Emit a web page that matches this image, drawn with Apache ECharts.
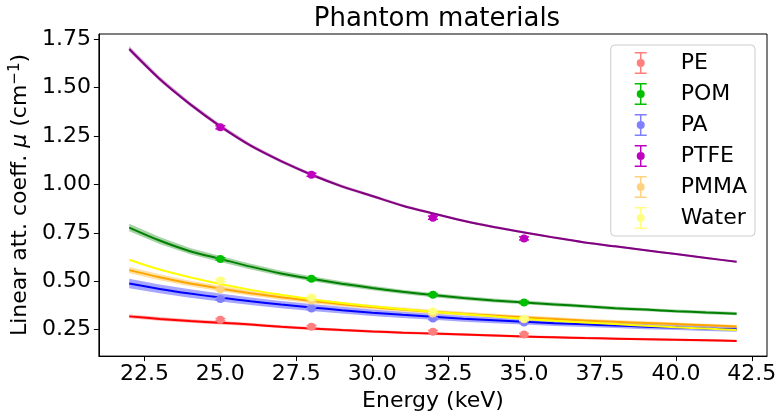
<!DOCTYPE html>
<html><head><meta charset="utf-8">
<script src="https://cdn.jsdelivr.net/npm/echarts@6/dist/echarts.min.js"></script>
<style>html,body{margin:0;padding:0;background:#fff}#c{width:782px;height:417px}</style>
</head><body><div id="c"></div>
<script>
// ---- data ----
const energyGrid = [22,23,24,25,26,27,28,29,30,31,32,33,34,35,36,37,38,39,40,41,42];
const measEnergy = [25,28,32,35];
const xTicks = [22.5,25,27.5,30,32.5,35,37.5,40,42.5];
const yTicks = [0.25,0.5,0.75,1.0,1.25,1.5,1.75];
const materials = ['PE','POM','PA','PTFE','PMMA','Water'];

const peCurve    = [0.318,0.305,0.294,0.285,0.276,0.264,0.255,0.247,0.240,0.234,0.229,0.224,0.219,0.214,0.210,0.206,0.203,0.200,0.197,0.194,0.191];
const pomCurve   = [0.777,0.710,0.655,0.615,0.575,0.540,0.512,0.487,0.465,0.445,0.428,0.413,0.400,0.390,0.380,0.370,0.360,0.353,0.345,0.338,0.332];
const paCurve    = [0.488,0.460,0.436,0.415,0.396,0.379,0.364,0.350,0.337,0.326,0.316,0.306,0.298,0.290,0.283,0.277,0.271,0.265,0.260,0.255,0.251];
const ptfeCurve  = [1.700,1.545,1.415,1.300,1.200,1.120,1.050,0.990,0.940,0.890,0.850,0.812,0.780,0.752,0.725,0.700,0.680,0.660,0.640,0.620,0.600];
const pmmaCurve  = [0.557,0.520,0.488,0.462,0.438,0.417,0.398,0.381,0.366,0.353,0.342,0.332,0.322,0.313,0.305,0.297,0.290,0.284,0.278,0.272,0.266];
const waterCurve = [0.611,0.560,0.520,0.485,0.455,0.430,0.407,0.387,0.370,0.355,0.342,0.330,0.318,0.305,0.295,0.286,0.278,0.270,0.262,0.255,0.248];

const peMeas    = [0.301,0.265,0.239,0.224];
const pomMeas   = [0.615,0.512,0.430,0.390];
const paMeas    = [0.408,0.359,0.307,0.287];
const ptfeMeas  = [1.295,1.050,0.828,0.721];
const pmmaMeas  = [0.458,0.400,0.333,0.303];
const waterMeas = [0.504,0.415,0.343,0.306];

const peErr    = [0.006,0.006,0.006,0.006];
const pomErr   = [0.006,0.006,0.006,0.006];
const paErr    = [0.006,0.006,0.006,0.006];
const ptfeErr  = [0.008,0.008,0.008,0.008];
const pmmaErr  = [0.006,0.006,0.006,0.006];
const waterErr = [0.006,0.006,0.006,0.006];

// relative half-width of the shaded uncertainty band
const peBand = 0.03, pomBand = 0.025, paBand = 0.05, ptfeBand = 0.008, pmmaBand = 0.03, waterBand = 0.0;

// ---- styles ----
const FONT = 'DejaVu Sans';
const lineColors  = {PE:'#ff0000', POM:'#008000', PA:'#0000ff', PTFE:'#800080', PMMA:'#ffa500', Water:'#ffff00'};
const bandColors  = {PE:'rgba(255,0,0,0.3)', POM:'rgba(0,128,0,0.35)', PA:'rgba(0,0,255,0.35)', PTFE:'rgba(128,0,128,0.35)', PMMA:'rgba(255,165,0,0.35)', Water:'rgba(255,255,0,0.3)'};
const pointColors = {PE:'#ff7f7f', POM:'#00bf00', PA:'#7f7fff', PTFE:'#bf00bf', PMMA:'#ffd27f', Water:'#ffff7f'};

const curves = {PE:peCurve, POM:pomCurve, PA:paCurve, PTFE:ptfeCurve, PMMA:pmmaCurve, Water:waterCurve};
const meas   = {PE:peMeas, POM:pomMeas, PA:paMeas, PTFE:ptfeMeas, PMMA:pmmaMeas, Water:waterMeas};
const errs   = {PE:peErr, POM:pomErr, PA:paErr, PTFE:ptfeErr, PMMA:pmmaErr, Water:waterErr};
const bands  = {PE:peBand, POM:pomBand, PA:paBand, PTFE:ptfeBand, PMMA:pmmaBand, Water:waterBand};

const series = [];
materials.forEach((m, k) => {
  const curve = curves[m], frac = bands[m];
  if (frac > 0) {
    series.push({
      type:'custom', name:m, silent:true, z:1 + k*0.01,
      data:[[energyGrid[0], curve[0]]],
      renderItem:(params, api) => {
        const pts = [];
        for (let i = 0; i < energyGrid.length; i++) pts.push(api.coord([energyGrid[i], curve[i]*(1+frac)]));
        for (let i = energyGrid.length-1; i >= 0; i--) pts.push(api.coord([energyGrid[i], curve[i]*(1-frac)]));
        return {type:'polygon', shape:{points:pts}, style:{fill:bandColors[m]}};
      }
    });
  }
  series.push({
    type:'line', name:m, z:2 + k*0.01, silent:true,
    data: energyGrid.map((e,i) => [e, curve[i]]),
    showSymbol:false, smooth:0.3,
    lineStyle:{color:lineColors[m], width:2},
    itemStyle:{color:lineColors[m]}
  });
});
materials.forEach((m, k) => {
  series.push({
    type:'custom', name:m, silent:true, z:5,
    data: measEnergy.map((e,i) => [e, meas[m][i], errs[m][i]]),
    renderItem:(params, api) => {
      const x = api.value(0), y = api.value(1), e = api.value(2);
      const t = api.coord([x, y+e]), b = api.coord([x, y-e]);
      const c = 5, col = pointColors[m];
      return {type:'group', children:[
        {type:'line', shape:{x1:t[0], y1:t[1], x2:b[0], y2:b[1]}, style:{stroke:col, lineWidth:1.5}},
        {type:'line', shape:{x1:t[0]-c, y1:t[1], x2:t[0]+c, y2:t[1]}, style:{stroke:col, lineWidth:1.5}},
        {type:'line', shape:{x1:b[0]-c, y1:b[1], x2:b[0]+c, y2:b[1]}, style:{stroke:col, lineWidth:1.5}}
      ]};
    }
  });
  series.push({
    type:'scatter', name:m, z:6, silent:true,
    data: measEnergy.map((e,i) => [e, meas[m][i]]),
    symbol:'circle', symbolSize:8,
    itemStyle:{color:pointColors[m], opacity:1}
  });
});

const legendIcon = 'path://M0,0H12V1.5H0Z M5.25,0H6.75V22H5.25Z M0,20.5H12V22H0Z M6,7A4,4 0 1 1 6,15A4,4 0 1 1 6,7Z';

const option = {
  animation:false,
  backgroundColor:'#fff',
  textStyle:{fontFamily:FONT},
  title:{text:'Phantom materials', left:432, textAlign:'center', top:1,
    textStyle:{fontFamily:FONT, fontSize:26, fontWeight:'normal', color:'#000'}},
  grid:{left:97, right:15, top:34, bottom:58, show:true, borderColor:'#000', borderWidth:1, backgroundColor:'transparent'},
  legend:{
    right:27, top:45, orient:'vertical',
    backgroundColor:'#fff', borderColor:'#cccccc', borderWidth:1, borderRadius:4,
    padding:[7,8,7,24], itemGap:9, itemWidth:12, itemHeight:22,
    data: materials.map(m => ({name:m, icon:legendIcon, itemStyle:{color:pointColors[m]}})),
    textStyle:{fontFamily:FONT, fontSize:22, color:'#000', lineHeight:22, padding:[0,0,0,29]},
    selectedMode:false
  },
  xAxis:{
    type:'value', min:21.0, max:43.0,
    name:'Energy (keV)', nameLocation:'middle', nameGap:28,
    nameTextStyle:{fontFamily:FONT, fontSize:22, color:'#000'},
    axisLine:{show:true, lineStyle:{color:'#000', width:1}},
    axisTick:{show:true, inside:false, length:5, lineStyle:{color:'#000'}, customValues:xTicks},
    axisLabel:{fontFamily:FONT, fontSize:22, color:'#000', margin:7, customValues:xTicks,
      formatter:v => v.toFixed(1)},
    splitLine:{show:false}
  },
  yAxis:{
    type:'value', min:0.1127, max:1.7774,
    name:'{n|Linear att. coeff. }{i|μ}{n| (cm}{s|−1}{n|)}', nameLocation:'middle', nameGap:62,
    nameTextStyle:{fontFamily:FONT, fontSize:22, color:'#000',
      rich:{n:{fontFamily:FONT, fontSize:22, color:'#000'},
            i:{fontFamily:FONT, fontSize:22, color:'#000', fontStyle:'italic'},
            s:{fontFamily:FONT, fontSize:15, color:'#000', verticalAlign:'top', padding:[0,0,9,0]}}},
    axisLine:{show:true, lineStyle:{color:'#000', width:1}},
    axisTick:{show:true, inside:false, length:5, lineStyle:{color:'#000'}, customValues:yTicks},
    axisLabel:{fontFamily:FONT, fontSize:22, color:'#000', margin:8, customValues:yTicks,
      formatter:v => v.toFixed(2)},
    splitLine:{show:false}
  },
  series: series
};
const chart = echarts.init(document.getElementById('c'), null, {renderer:'canvas'});
chart.setOption(option);
</script>
</body></html>
